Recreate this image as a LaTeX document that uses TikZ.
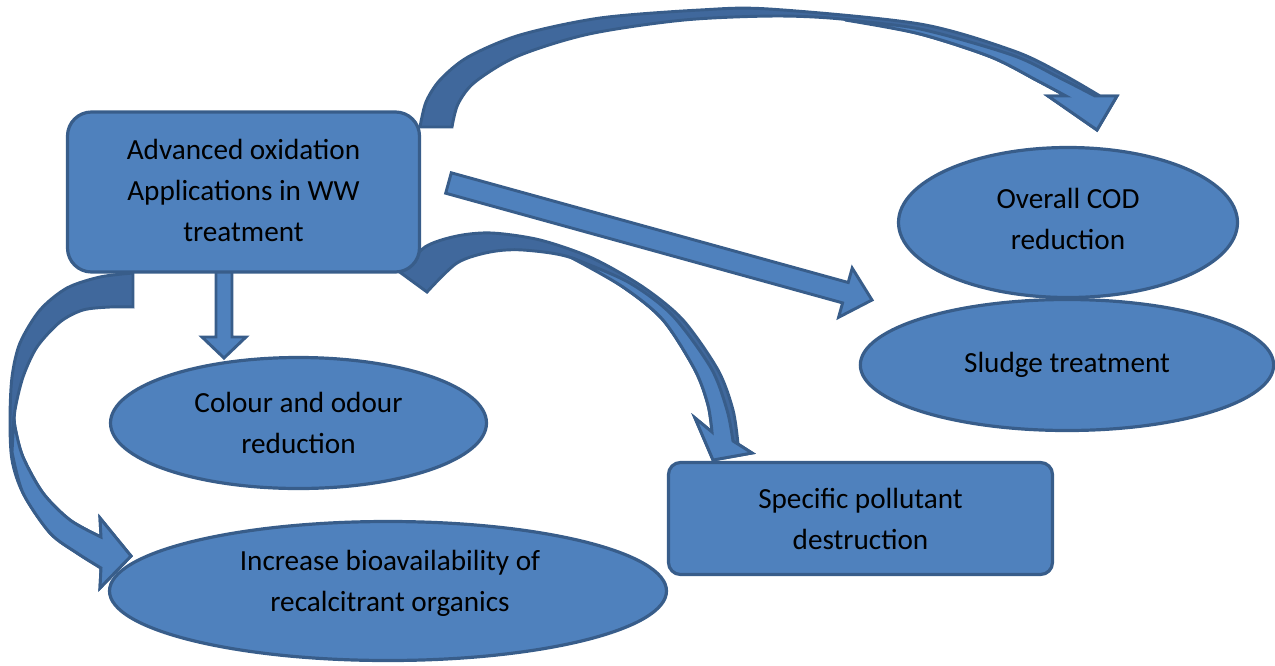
\documentclass[tikz,border=0pt]{standalone}
\usepackage{fontspec}
\setmainfont{Carlito}
\usetikzlibrary{shapes.geometric,calc}
\definecolor{fillblue}{HTML}{4F81BD}
\definecolor{edgeblue}{HTML}{385D8A}
\definecolor{darkblue}{HTML}{40689C}
\tikzset{
  shapebox/.style={draw=edgeblue, fill=fillblue, line width=2.4pt, inner sep=0pt,
    align=center, font=\fontsize{21.9pt}{30.75pt}\selectfont, text=black},
  oval/.style={shapebox, ellipse},
  rbox/.style={shapebox, rectangle},
  backface/.style={draw=edgeblue, fill=darkblue, line width=2.2pt, line join=miter},
  frontface/.style={draw=edgeblue, fill=fillblue, line width=2.2pt, line join=miter},
  txt/.style={align=center, font=\fontsize{21.9pt}{30.75pt}\selectfont, text=black, inner sep=0pt},
}
\begin{document}
\begin{tikzpicture}[x=0.75pt,y=-0.75pt]
\useasboundingbox (0,0) rectangle (1275,665);

% ---- top curved arrow (to Overall COD reduction)
\path[backface] plot[smooth] coordinates {(420,127) (426,102) (440,80) (468,57) (520,35) (600,18) (700,10) (769,9) (920,24) (1014,51) (1062,74) (1100,96)}
  -- (1117,96) -- (1097,130) -- (1048,96)
  -- plot[smooth] coordinates {(1066,96) (1038,81) (991,57) (920,34) (850,20) (778,16) (684,20) (589,34) (518,56) (475,82) (458,104) (452,127)} -- cycle;
\path[frontface] plot[smooth] coordinates {(845,20) (920,29) (1012,55) (1060,78) (1095,96)}
  -- (1117,96) -- (1097,130) -- (1048,96)
  -- plot[smooth] coordinates {(1066,96) (1038,81) (991,57) (920,34) (845,20)} -- cycle;

% ---- curved arrow to Specific pollutant destruction
\path[backface] plot[smooth] coordinates {(401,273) (425,247) (457,236) (492,233) (540,240) (592,258) (643,287) (683,320) (718,370) (733,410) (738,444)}
  -- (752,453) -- (713,460) -- (695,418)
  -- plot[smooth] coordinates {(712,432) (708,405) (695,370) (663,320) (623,287) (572,258) (523,250) (490,252) (457,263) (427,292)} -- cycle;
\path[frontface] plot[smooth] coordinates {(572,258) (628,282) (672,315) (711,368) (727,410) (733,441)}
  -- (752,453) -- (713,460) -- (695,418)
  -- plot[smooth] coordinates {(712,432) (708,405) (695,370) (663,320) (623,287) (572,258)} -- cycle;

% ---- left curved arrow to Increase bioavailability
\path[backface] plot[smooth] coordinates {(133,273) (100,277) (67,288) (40,310) (20,343) (12,377) (10,420) (12,460) (23,493) (50,533) (77,553) (101,568)}
  -- (100,588) -- (131,556) -- (100,518)
  -- plot[smooth] coordinates {(101,537) (70,520) (43,493) (23,457) (15,427) (15,410) (23,377) (37,347) (60,322) (83,310) (110,307) (133,307)} -- cycle;
\path[frontface] plot[smooth] coordinates {(12,452) (23,493) (50,533) (77,553) (101,568)}
  -- (100,588) -- (131,556) -- (100,518)
  -- plot[smooth] coordinates {(101,537) (70,520) (43,493) (23,457) (15,427) (14,416)} -- cycle;

% ---- straight down arrow
\path[frontface] (216,265) -- (216,337) -- (202,337) -- (224,358) -- (246,337) -- (232,337) -- (232,265) -- cycle;

% ---- diagonal arrow to Sludge treatment
\path[frontface] (451.3,172.8) -- (848.2,282.5) -- (852.2,268.1) -- (872,300) -- (838.6,317.3) -- (842.6,302.9) -- (445.7,193.2) -- cycle;

% ---- shapes
\node[rbox, rounded corners=18pt, minimum width=264pt, minimum height=120pt] (aop) at (243.5,192) {};
\node[txt] (aoptext) at (243.5,190) {Advanced oxidation\\Applications in WW\\treatment};
\node[oval, minimum width=310pt, minimum height=98.25pt] (sludge) at (1067,365) {Sludge treatment};
\node[oval, minimum width=254.25pt, minimum height=112.5pt] (cod) at (1068,222.5) {};
\node[txt] (codtext) at (1068,218.5) {Overall COD\\reduction};
\node[oval, minimum width=282pt, minimum height=98.25pt] (colour) at (298.5,423) {Colour and odour\\reduction};
\node[rbox, rounded corners=9pt, minimum width=288pt, minimum height=84pt] (spec) at (860.5,518.5)
  {Specific pollutant\\destruction};
\node[oval, minimum width=417.75pt, minimum height=104.25pt] (bio) at (388,591) {};
\node[txt] (biotext) at (390,583) {Increase bioavailability of\\recalcitrant organics};
\end{tikzpicture}
\end{document}
